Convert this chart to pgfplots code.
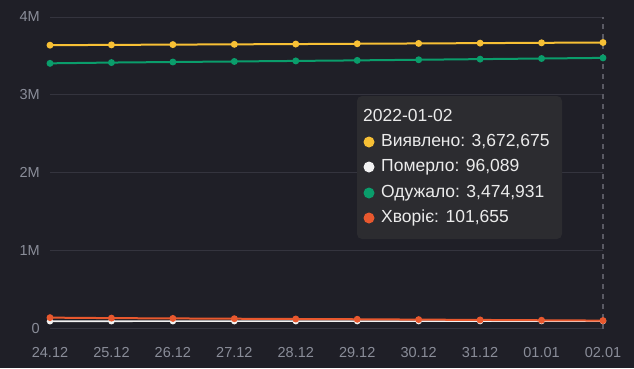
\documentclass[border=0pt]{standalone}
\usepackage{pgfplots}
\pgfplotsset{compat=1.18}
\usepackage{fontspec}
\setmainfont{Liberation Sans}
\definecolor{bg}{HTML}{1F1F27}
\definecolor{gridc}{HTML}{34343E}
\definecolor{labc}{HTML}{8A8D99}
\definecolor{dashc}{HTML}{5A5A64}
\definecolor{yel}{HTML}{F7C035}
\definecolor{grn}{HTML}{0A9D6B}
\definecolor{redc}{HTML}{E8582E}
\definecolor{whi}{HTML}{F2F2F2}
\definecolor{tipbg}{HTML}{2C2C30}
\definecolor{tiptx}{HTML}{EBEBEB}
\begin{document}
\begin{tikzpicture}[x=1pt,y=1pt]
\fill[bg] (0,0) rectangle (634,368);
\begin{axis}[
  at={(50pt,39.5pt)}, anchor=south west,
  scale only axis, width=553pt, height=311.5pt,
  xmin=0, xmax=9, ymin=0, ymax=4000000,
  clip=false,
  axis line style={draw=none},
  major tick length=0pt,
  ymajorgrids, grid style={color=gridc, line width=0.9pt},
  xtick={0,...,9},
  xticklabels={24.12,25.12,26.12,27.12,28.12,29.12,30.12,31.12,01.01,02.01},
  ytick={0,1000000,2000000,3000000,4000000},
  yticklabels={0,1M,2M,3M,4M},
  scaled y ticks=false,
  tick label style={color=labc, font=\fontsize{14.5}{16}\selectfont},
  yticklabel style={anchor=east, inner sep=0pt, xshift=-10pt},
  xticklabel style={anchor=north, inner sep=0pt, yshift=-19pt},
]
\draw[dashc, line width=1.3pt, dash pattern=on 5pt off 5pt] (axis cs:9,0) -- (axis cs:9,4000000);
\addplot[color=yel, line width=2pt, mark=*, mark size=2.4pt, mark options={fill=yel}] coordinates {
(0,3638000) (1,3642000) (2,3645500) (3,3649000) (4,3652500) (5,3656500) (6,3660500) (7,3664500) (8,3668500) (9,3672675)};
\addplot[color=grn, line width=2pt, mark=*, mark size=2.4pt, mark options={fill=grn}] coordinates {
(0,3405000) (1,3415000) (2,3422000) (3,3429000) (4,3436000) (5,3443000) (6,3451000) (7,3459000) (8,3467000) (9,3474931)};
\addplot[color=whi, line width=1.6pt, mark=*, mark size=2.4pt, mark options={fill=whi}] coordinates {
(0,93400) (1,93700) (2,94000) (3,94300) (4,94600) (5,94900) (6,95200) (7,95500) (8,95800) (9,96089)};
\addplot[color=redc, line width=2pt, mark=*, mark size=2.4pt, mark options={fill=redc}] coordinates {
(0,139600) (1,133300) (2,129500) (3,125700) (4,121900) (5,118600) (6,114300) (7,110000) (8,105700) (9,101655)};
\end{axis}
\fill[tipbg, rounded corners=5pt] (357,129) rectangle (562,272);
\begin{scope}[every node/.style={anchor=west, inner sep=0pt, text=tiptx, font=\fontsize{17.5}{19}\selectfont}]
\node at (363,253) {2022-01-02};
\fill[yel] (369,226) circle (5.5);
\node at (381,226) {Виявлено: 3,672,675};
\fill[whi] (369,201) circle (5.5);
\node at (381,201) {Померло: 96,089};
\fill[grn] (369,175) circle (5.5);
\node at (381,175) {Одужало: 3,474,931};
\fill[redc] (369,150) circle (5.5);
\node at (381,150) {Хворіє: 101,655};
\end{scope}
\end{tikzpicture}
\end{document}
